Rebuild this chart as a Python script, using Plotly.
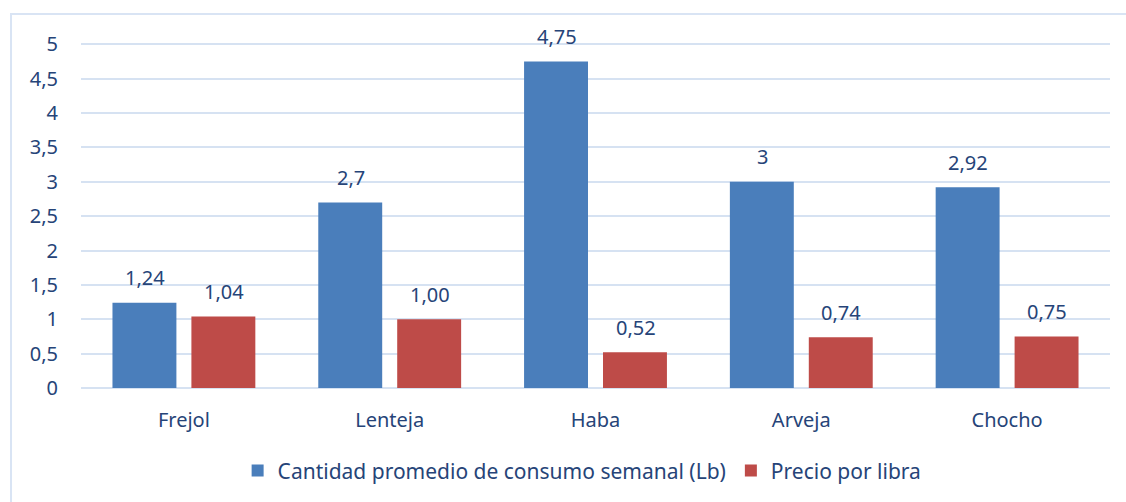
import plotly.graph_objects as go

# ─────────────────────────────────────────────
# Data
# ─────────────────────────────────────────────
CATEGORIES = ["Frejol", "Lenteja", "Haba", "Arveja", "Chocho"]
CANTIDAD = [1.24, 2.7, 4.75, 3, 2.92]
PRECIO = [1.04, 1.00, 0.52, 0.74, 0.75]
SERIES_NAMES = ["Cantidad promedio de consumo semanal (Lb)", "Precio por libra"]
Y_TICKS = [0, 0.5, 1, 1.5, 2, 2.5, 3, 3.5, 4, 4.5, 5]

BLUE = "#4a7ebb"
RED = "#be4b48"
TEXT = "#264478"
GRID = "#d6e2f2"
FONT = "Noto Sans"
FS = 20


def fmt_general(v):
    return f"{v:g}".replace(".", ",")


def fmt_2dec(v):
    return f"{v:.2f}".replace(".", ",")


fig = go.Figure()
fig.add_trace(go.Bar(x=CATEGORIES, y=CANTIDAD, name=SERIES_NAMES[0],
                     marker=dict(color=BLUE, line=dict(width=0))))
fig.add_trace(go.Bar(x=CATEGORIES, y=PRECIO, name=SERIES_NAMES[1],
                     marker=dict(color=RED, line=dict(width=0))))

# value labels above bars
annotations = []
for cat, v in zip(CATEGORIES, CANTIDAD):
    annotations.append(dict(x=cat, y=v, text=fmt_general(v), showarrow=False,
                            xshift=-39, yshift=25, yanchor="middle",
                            font=dict(size=FS, color=TEXT, family=FONT)))
for cat, v in zip(CATEGORIES, PRECIO):
    annotations.append(dict(x=cat, y=v, text=fmt_2dec(v), showarrow=False,
                            xshift=40, yshift=25, yanchor="middle",
                            font=dict(size=FS, color=TEXT, family=FONT)))

fig.update_layout(
    width=1126, height=502,
    margin=dict(l=81, r=16, t=43, b=114, autoexpand=False),
    paper_bgcolor="white", plot_bgcolor="white",
    separators=",.",
    barmode="group", bargap=0.233, bargroupgap=0.19,
    font=dict(family=FONT, size=FS, color=TEXT),
    showlegend=True,
    legend=dict(orientation="h", x=0.487, xanchor="center", y=-0.24, yanchor="middle",
                font=dict(size=21, color=TEXT), itemwidth=30, traceorder="normal"),
    annotations=annotations,
    shapes=[dict(type="rect", xref="paper", yref="paper",
                 x0=-0.068, x1=1.1, y0=-0.5, y1=1.084,
                 line=dict(color="#d9e4f4", width=2), fillcolor="rgba(0,0,0,0)",
                 layer="below")],
)
fig.update_xaxes(showgrid=False, showline=False, ticks="", ticklabelstandoff=18,
                 automargin=False, tickfont=dict(size=FS, color=TEXT))
fig.update_yaxes(range=[0, 5.02], tickvals=Y_TICKS, showgrid=True, gridcolor=GRID, gridwidth=2,
                 zeroline=True, zerolinecolor=GRID, zerolinewidth=2, showline=False,
                 automargin=False, ticks="", ticklabelstandoff=22,
                 tickfont=dict(size=FS, color=TEXT))

fig.write_html("out.html", config={"displayModeBar": False},
               post_script="document.body.style.margin = '0';")
